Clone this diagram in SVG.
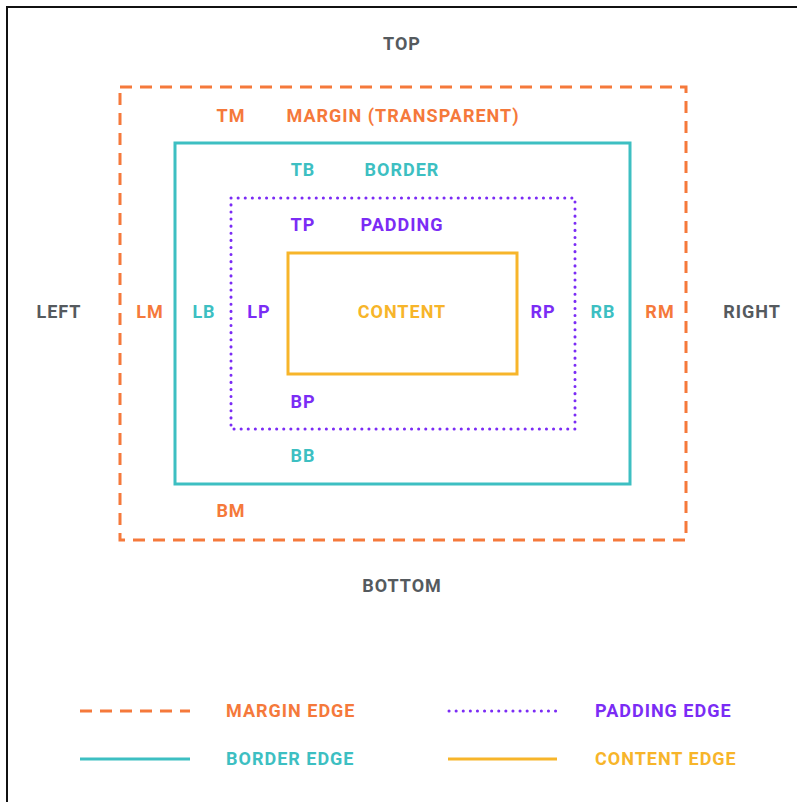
<svg xmlns="http://www.w3.org/2000/svg" width="797" height="802" viewBox="0 0 797 802">
<style>
text{font-family:Roboto,"Liberation Sans",sans-serif;font-weight:bold;font-size:18px;letter-spacing:1px;text-anchor:middle}
.g{fill:#555a5e}.o{fill:#f5793b}.t{fill:#3dbfc2}.p{fill:#7b2cf5}.y{fill:#f7b52a}
.st{text-anchor:start}
.mg{fill:none;stroke:#f5793b;stroke-width:3;stroke-dasharray:12 8}
.bd{fill:none;stroke:#3dbfc2;stroke-width:3}
.pd{fill:none;stroke:#7b2cf5;stroke-width:3;stroke-linecap:round;stroke-dasharray:0.1 7}
.ct{fill:none;stroke:#f7b52a;stroke-width:3}
</style>
<rect x="0" y="0" width="797" height="802" fill="#fff"/>
<rect x="7" y="7" width="800" height="810" fill="none" stroke="#111" stroke-width="2"/>
<g id="margin">
<rect class="mg" x="120" y="87" width="566" height="453"/>
<text class="o" x="231" y="122">TM</text>
<text class="o" x="403" y="122">MARGIN (TRANSPARENT)</text>
<text class="o" x="150" y="318">LM</text>
<text class="o" x="660" y="318">RM</text>
<text class="o" x="231" y="517">BM</text>
</g>
<g id="border">
<rect class="bd" x="175" y="143" width="455" height="341"/>
<text class="t" x="303" y="176">TB</text>
<text class="t" x="402" y="176">BORDER</text>
<text class="t" x="204" y="318">LB</text>
<text class="t" x="603" y="318">RB</text>
<text class="t" x="303" y="462">BB</text>
</g>
<g id="padding">
<rect class="pd" x="231" y="198" width="344" height="231"/>
<text class="p" x="303" y="231">TP</text>
<text class="p" x="402" y="231">PADDING</text>
<text class="p" x="259" y="318">LP</text>
<text class="p" x="543" y="318">RP</text>
<text class="p" x="303" y="408">BP</text>
</g>
<g id="content">
<rect class="ct" x="288" y="253" width="229" height="121"/>
<text class="y" x="402" y="318">CONTENT</text>
</g>
<g id="sides">
<text class="g" x="402" y="50">TOP</text>
<text class="g" x="59" y="318">LEFT</text>
<text class="g" x="752" y="318">RIGHT</text>
<text class="g" x="402" y="592">BOTTOM</text>
</g>
<g id="legend">
<line class="mg" x1="80" y1="711" x2="190" y2="711"/>
<text class="o st" x="226" y="717">MARGIN EDGE</text>
<line class="pd" x1="449" y1="711" x2="557" y2="711"/>
<text class="p st" x="595" y="717">PADDING EDGE</text>
<line class="bd" x1="80" y1="759" x2="190" y2="759"/>
<text class="t st" x="226" y="765">BORDER EDGE</text>
<line class="ct" x1="448" y1="759" x2="557" y2="759"/>
<text class="y st" x="595" y="765">CONTENT EDGE</text>
</g>
</svg>
